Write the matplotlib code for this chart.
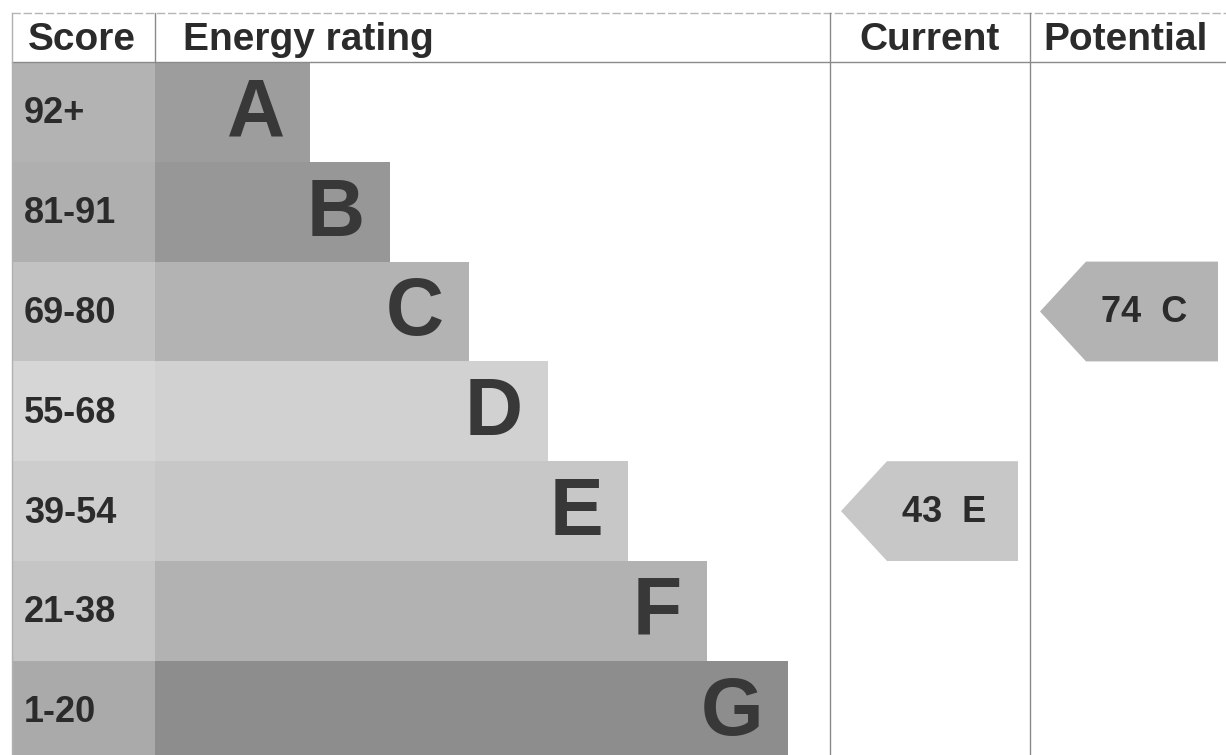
import numpy as np
import matplotlib.pyplot as plt
from matplotlib.patches import Polygon

plt.rcParams['font.family'] = ['Liberation Sans', 'DejaVu Sans']

bands = ['A', 'B', 'C', 'D', 'E', 'F', 'G']
scores = ['92+', '81-91', '69-80', '55-68', '39-54', '21-38', '1-20']
bar_ends = [310, 390, 469, 548, 628, 707, 788]
score_cols = ['#b3b3b3', '#afafaf', '#c2c2c2', '#d6d6d6', '#cdcdcd', '#c5c5c5', '#aaaaaa']
bar_cols = ['#9d9d9d', '#979797', '#b3b3b3', '#d1d1d1', '#c7c7c7', '#b2b2b2', '#8d8d8d']
current = (43, 'E')
potential = (74, 'C')

W, H = 1226, 755
top, head, row_h = 13, 62, 99.8
left, col1 = 12, 155
cur_l, pot_l = 830, 1030

fig = plt.figure(figsize=(W / 100, H / 100), dpi=100)
ax = fig.add_axes([0, 0, 1, 1])
ax.set_xlim(0, W)
ax.set_ylim(H, 0)
ax.axis('off')

ys = head + (np.arange(len(bands)) + 0.5) * row_h
ends = np.array(bar_ends)

# score column and rating bars
ax.barh(ys, col1 - left, left=left, height=row_h, color=score_cols, linewidth=0)
ax.barh(ys, ends - col1, left=col1, height=row_h, color=bar_cols, linewidth=0)

txt = '#2b2b2b'
for y, s, b, e in zip(ys, scores, bands, ends):
    ax.text(24, y + 2, s, fontsize=26, fontweight='bold', color=txt, va='center', ha='left')
    ax.text(e - 25, y + 3, b, fontsize=58, fontweight='bold', color='#383838', va='center', ha='right')

# grid lines
lc = '#8a8a8a'
ax.plot([left, W], [top, top], color='#b5b5b5', lw=1, ls=(0, (6, 2)))
ax.plot([left, W], [head, head], color=lc, lw=1)
ax.plot([left, left], [top, H], color='#b0b0b0', lw=1)
ax.plot([col1, col1], [top, head], color=lc, lw=1)
ax.plot([cur_l, cur_l], [top, H], color=lc, lw=1)
ax.plot([pot_l, pot_l], [top, H], color=lc, lw=1)

# headers
hy = (top + head) / 2 + 2
ax.text(28, hy, 'Score', fontsize=28, fontweight='bold', color=txt, va='center')
ax.text(183, hy, 'Energy rating', fontsize=28, fontweight='bold', color=txt, va='center')
ax.text((cur_l + pot_l) / 2, hy, 'Current', fontsize=28, fontweight='bold', color=txt, va='center', ha='center')
ax.text(1033 + 93, hy, 'Potential', fontsize=28, fontweight='bold', color=txt, va='center', ha='center')


def arrow(x0, x1, val, band):
    i = bands.index(band)
    yc = ys[i]
    h = row_h / 2
    pts = [(x0, yc), (x0 + 46, yc - h), (x1, yc - h), (x1, yc + h), (x0 + 46, yc + h)]
    ax.add_patch(Polygon(pts, closed=True, facecolor=bar_cols[i], edgecolor='none'))
    ax.text((x0 + x1) / 2 + 15, yc + 1, f'{val}  {band}', fontsize=26, fontweight='bold',
            color=txt, va='center', ha='center')


arrow(841, 1018, current[0], current[1])
arrow(1040, 1218, potential[0], potential[1])

fig.savefig('out.png', dpi=100, facecolor='white')
